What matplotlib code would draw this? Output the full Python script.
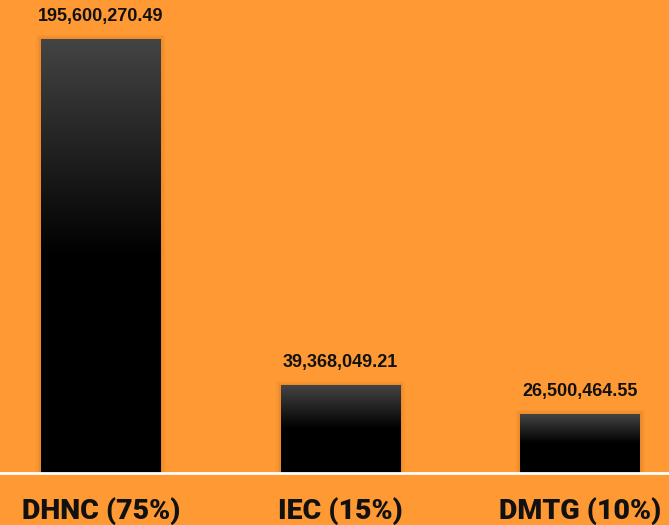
import numpy as np
import matplotlib
matplotlib.use("Agg")
import matplotlib.pyplot as plt
from matplotlib.colors import LinearSegmentedColormap

categories = ["DHNC (75%)", "IEC (15%)", "DMTG (10%)"]
values = [195600270.49, 39368049.21, 26500464.55]
value_labels = ["195,600,270.49", "39,368,049.21", "26,500,464.55"]

BG = "#FF9933"
fig = plt.figure(figsize=(6.69, 5.25), dpi=100, facecolor=BG)
ax = fig.add_axes([0, 52 / 525, 1, 473 / 525])
ax.set_facecolor(BG)

x = np.arange(len(categories))
width = 0.5
ymax = 213.2e6
ax.set_xlim(-0.42, 2.37)
ax.set_ylim(0, ymax)

cmap = LinearSegmentedColormap.from_list("g", [(0, "#000000"), (0.5, "#000000"), (1, "#444444")])
grad = np.linspace(0, 1, 256).reshape(-1, 1)
for xi, v, lab in zip(x, values, value_labels):
    # soft shadow
    for k, a in enumerate([0.06, 0.05, 0.04]):
        d = 0.006 * (k + 1)
        ax.add_patch(plt.Rectangle((xi - width / 2 - d, 0), width + 2 * d, v + ymax * d * 0.5,
                                   color="#7a4000", alpha=a, lw=0, zorder=1))
    ax.imshow(grad, cmap=cmap, origin="lower", aspect="auto",
              extent=(xi - width / 2, xi + width / 2, 0, v), zorder=2)
    ax.text(xi, v + ymax * 0.048, lab, ha="center", va="center",
            fontsize=13, fontweight="bold", family="Liberation Sans", color="#111111")

ax.axhline(0, color="white", lw=2, zorder=3, clip_on=False)
ax.set_xticks(x)
ax.set_xticklabels(categories, fontsize=20.5, fontweight="black", family="Roboto", color="#111111")
ax.tick_params(axis="x", length=0, pad=17)
ax.set_yticks([])
for s in ax.spines.values():
    s.set_visible(False)

fig.savefig("out.png", dpi=100, facecolor=BG)
